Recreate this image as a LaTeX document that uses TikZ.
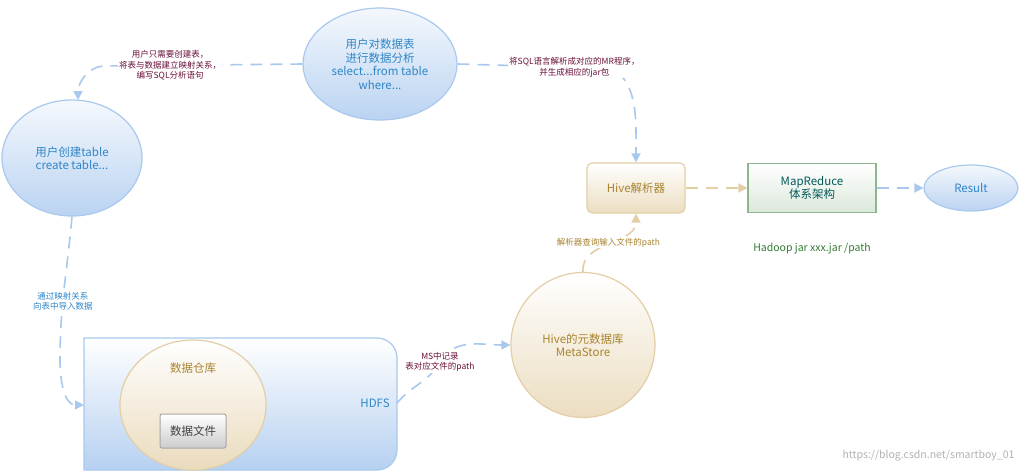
\documentclass[tikz,border=0pt]{standalone}
\usepackage{fontspec}
\setmainfont{Noto Sans CJK SC}
\usetikzlibrary{shapes.geometric,arrows.meta}
\definecolor{eb}{HTML}{A9C8EE}
\definecolor{ebt}{HTML}{2E86C8}
\definecolor{bg}{HTML}{E3CFA6}
\definecolor{bgt}{HTML}{A8842E}
\definecolor{lbl}{HTML}{6A0F3A}
\definecolor{gb}{HTML}{8DB88D}
\definecolor{gf}{HTML}{DCE8DC}
\begin{document}
\begin{tikzpicture}[x=1pt,y=-1pt,
  bel/.style={ellipse,draw=eb,line width=1.2pt,top color=white!70!eb!40,bottom color=eb!80,text=ebt,font=\fontsize{11.5}{13.5}\selectfont,align=center,inner sep=0pt},
  beige/.style={draw=bg,line width=1.2pt,top color=white,bottom color=bg!70,text=bgt,font=\fontsize{11.5}{13.5}\selectfont,align=center},
  con/.style={draw=eb,line width=1.6pt,dash pattern=on 12pt off 8pt,-{Triangle[length=9pt,width=9pt]}},
  conb/.style={draw=bg,line width=1.6pt,dash pattern=on 12pt off 8pt,-{Triangle[length=9pt,width=9pt]}},
  lab/.style={font=\fontsize{8.5}{10.5}\selectfont,align=center,text=lbl,fill=white,inner sep=1pt}]
\useasboundingbox[fill=white] (0,0) rectangle (1021,472);
% HDFS box
\path[draw=eb,line width=1.2pt,top color=white,bottom color=eb!85]
  (84,338) -- (377,338) to[out=0,in=90] (397,358) -- (397,450) to[out=-90,in=0] (377,470) -- (84,470) -- cycle;
\node[text=ebt,font=\fontsize{11.5}{13.5}\selectfont] (hdfs) at (375,403) {HDFS};
\coordinate (hdfsl) at (84,405);
\coordinate (hdfsr) at (397,403);
\node[ellipse,draw=bg,line width=1.2pt,top color=white,bottom color=bg!75,minimum width=146pt,minimum height=130pt] (dw) at (193,405) {};
\node[text=bgt,font=\fontsize{11.5}{13.5}\selectfont] at (193,368) {数据仓库};
\node[draw=gray!70,line width=1pt,rounded corners=2pt,top color=white,bottom color=gray!40,minimum width=66pt,minimum height=34pt,font=\fontsize{11.5}{13.5}\selectfont,text=black!75] (df) at (193,431) {数据文件};
% ellipses
\node[bel,minimum width=140pt,minimum height=116pt] (e1) at (72,158) {用户创建table\\create table...};
\node[bel,minimum width=154pt,minimum height=112pt] (e2) at (380,64) {用户对数据表\\进行数据分析\\select...from table\\where...};
\node[beige,rounded corners=6pt,minimum width=98pt,minimum height=50pt] (hive) at (636,188) {Hive解析器};
\node[draw=gb,line width=1.2pt,top color=white,bottom color=gf,minimum width=128pt,minimum height=49pt,text=teal!70!black,font=\fontsize{11.5}{13.5}\selectfont,align=center] (mr) at (812,188) {MapReduce\\体系架构};
\node[bel,minimum width=94pt,minimum height=46pt] (res) at (971,188) {Result};
\node[beige,ellipse,minimum width=144pt,minimum height=145pt] (ms) at (583,345) {Hive的元数据库\\MetaStore};
\node[text=green!35!black!80,font=\fontsize{10.5}{12}\selectfont] (hj) at (812,249) {Hadoop jar xxx.jar /path};
% connectors
\coordinate (c1) at (105,66);
\coordinate (c2) at (600,68);
\coordinate (c3) at (60,360);
\coordinate (c4) at (440,362);
\draw[con] (e2.west) -- node[lab,pos=0.67]{用户只需要创建表，\\将表与数据建立映射关系，\\编写SQL分析语句} (c1) to[out=180,in=90] (78,100);
\draw[con] (e2.east) -- node[lab,pos=0.82]{将SQL语言解析成对应的MR程序，\\并生成相应的jar包} (c2) to[out=0,in=90] (hive.north);
\draw[con] (e1.south) to[out=-95,in=90] node[lab,pos=0.6,text=ebt]{通过映射关系\\向表中导入数据} (c3) to[out=-90,in=180] (hdfsl);
\draw[con] (hdfsr) to[out=50,in=-120] node[lab,pos=1]{MS中记录\\表对应文件的path} (c4) to[out=60,in=180] (ms.west);
\draw[conb] (ms.north) to[out=95,in=-90] node[lab,pos=0.5,text=bgt]{解析器查询输入文件的path} (hive.south);
\draw[conb] (hive.east) -- (mr.west);
\draw[con] (mr.east) -- (res.west);
\node[text=gray!60,font=\fontsize{10.5}{12}\selectfont,anchor=south east] (url) at (1018,465) {https://blog.csdn.net/smartboy\_01};
\end{tikzpicture}
\end{document}
